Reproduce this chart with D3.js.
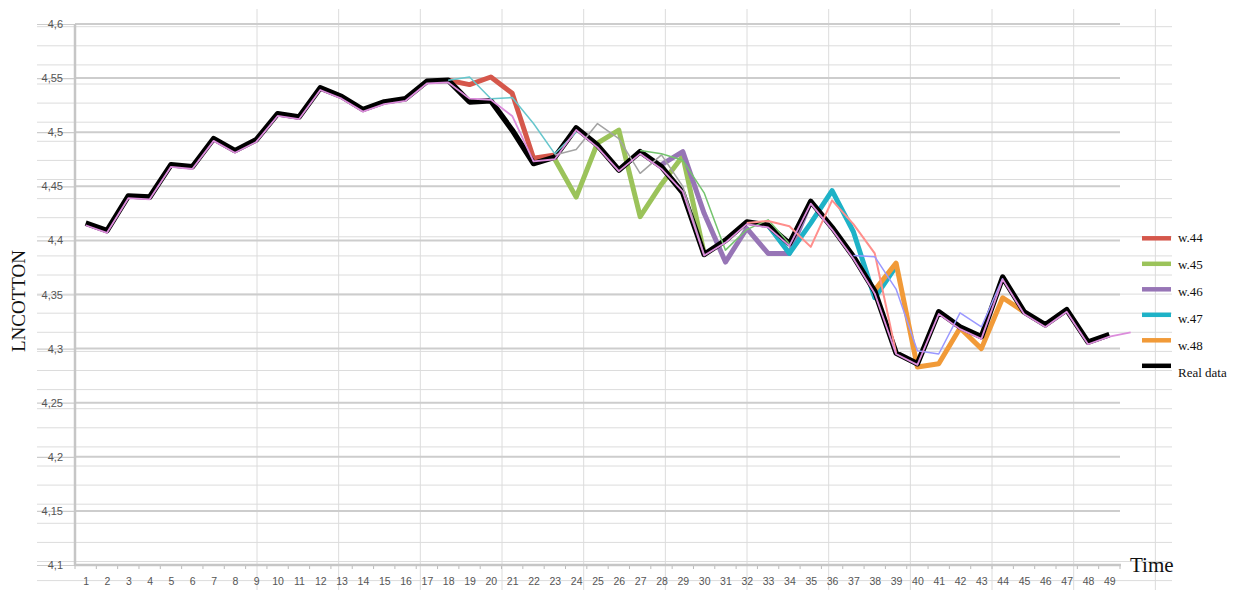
<!DOCTYPE html>
<html>
<head>
<meta charset="utf-8">
<script src="https://d3js.org/d3.v7.min.js"></script>
<style>
  body { margin: 0; background: #fff; }
  svg { display: block; }
</style>
</head>
<body>
<div id="chart"></div>
<script>
// time axis categories
var times = [1, 2, 3, 4, 5, 6, 7, 8, 9, 10, 11, 12, 13, 14, 15, 16, 17, 18, 19, 20,
  21, 22, 23, 24, 25, 26, 27, 28, 29, 30, 31, 32, 33, 34, 35, 36, 37, 38, 39, 40,
  41, 42, 43, 44, 45, 46, 47, 48, 49];
var yTicks = [4.1, 4.15, 4.2, 4.25, 4.3, 4.35, 4.4, 4.45, 4.5, 4.55, 4.6];

// real data (LNCOTTON)
var realData = [4.416, 4.409, 4.441, 4.440, 4.470, 4.468, 4.494, 4.483, 4.493, 4.517,
  4.514, 4.541, 4.533, 4.521, 4.528, 4.531, 4.547, 4.548, 4.528, 4.529,
  4.502, 4.471, 4.477, 4.504, 4.488, 4.465, 4.482, 4.468, 4.444, 4.387,
  4.400, 4.417, 4.414, 4.397, 4.436, 4.412, 4.385, 4.353, 4.296, 4.286,
  4.334, 4.320, 4.311, 4.366, 4.334, 4.322, 4.336, 4.306, 4.313];

// forecasts shown in the legend (first value = time in *Start)
var w44Start = 18;
var w44 = [4.548, 4.544, 4.551, 4.536, 4.476, 4.479];
var w45Start = 23;
var w45 = [4.475, 4.440, 4.490, 4.502, 4.422, 4.452, 4.478, 4.388];
var w46Start = 28;
var w46 = [4.470, 4.482, 4.425, 4.380, 4.411, 4.388, 4.388, 4.436];
var w47Start = 33;
var w47 = [4.414, 4.388, 4.416, 4.446, 4.408, 4.347, 4.376];
var w48Start = 38;
var w48 = [4.354, 4.379, 4.283, 4.286, 4.319, 4.300, 4.347, 4.334];

// other thin forecast lines (no legend entry)
var thinCyanStart = 18;
var thinCyan = [4.548, 4.551, 4.531, 4.532, 4.508, 4.480, 4.500];
var greyStart = 23;
var grey = [4.479, 4.484, 4.508, 4.494, 4.462, 4.479, 4.450, 4.387];
var thinGreenStart = 27;
var thinGreen = [4.483, 4.480, 4.474, 4.444, 4.391, 4.410, 4.419, 4.397];
var salmonStart = 32;
var salmon = [4.416, 4.418, 4.413, 4.394, 4.437, 4.415, 4.388, 4.296];
var lavenderStart = 37;
var lavender = [4.386, 4.385, 4.355, 4.298, 4.295, 4.333, 4.320, 4.365];
var pinkStart = 1;
var pink = [4.414, 4.407, 4.439, 4.438, 4.468, 4.466, 4.492, 4.481, 4.491, 4.515,
  4.512, 4.539, 4.531, 4.519, 4.526, 4.529, 4.545, 4.546, 4.531, 4.530,
  4.515, 4.473, 4.475, 4.502, 4.486, 4.464, 4.480, 4.466, 4.445, 4.386,
  4.398, 4.415, 4.412, 4.395, 4.434, 4.410, 4.383, 4.351, 4.295, 4.285,
  4.332, 4.318, 4.309, 4.364, 4.332, 4.320, 4.334, 4.304, 4.311, 4.315];

render_chart();

function render_chart() {

  var width = 1237,
      height = 590;

  // plot area
  var left = 75, right = 1120, top = 24, bottom = 565;

  var x = d3.scaleLinear().domain([0.5, times.length + 0.5]).range([left, right]);
  var y = d3.scaleLinear().domain([4.1, 4.6]).range([bottom, top]);

  var comma = d3.formatLocale({decimal: ",", thousands: ".", grouping: [3], currency: ["", ""]}).format("~g");

  var svg = d3.select("#chart").append("svg")
    .attr("width", width)
    .attr("height", height);

  // spreadsheet cells behind the chart
  var sheet = svg.append("g").attr("stroke", "#dcdcdc").attr("stroke-width", 1);
  for (var ry = 26.7; ry < height; ry += 19.1) {
    sheet.append("line").attr("x1", 37).attr("x2", 1172).attr("y1", ry).attr("y2", ry);
  }
  for (var cx = 257; cx < 1160; cx += 81.67) {
    sheet.append("line").attr("x1", cx).attr("x2", cx).attr("y1", 9).attr("y2", height);
  }

  // horizontal gridlines + long tick lines
  svg.append("g")
    .selectAll("line.grid")
    .data(yTicks)
    .enter().append("line")
    .attr("class", "grid")
    .attr("x1", left).attr("x2", right)
    .attr("y1", function(d) { return y(d); })
    .attr("y2", function(d) { return y(d); })
    .attr("stroke", "#cdcdcd")
    .attr("stroke-width", 2);

  var yAxis = svg.append("g")
    .attr("transform", "translate(" + left + ",0)")
    .call(d3.axisLeft(y).tickValues(yTicks).tickSize(38).tickFormat(comma));
  yAxis.select(".domain").remove();
  yAxis.selectAll(".tick line").attr("stroke", "#cccccc").attr("stroke-width", 1.2);
  yAxis.selectAll(".tick text")
    .attr("x", -12)
    .attr("fill", "#555")
    .style("font-family", "'Liberation Sans', Arial, sans-serif")
    .style("font-size", "11px");

  // x axis labels
  var xAxis = svg.append("g")
    .attr("transform", "translate(0," + bottom + ")")
    .call(d3.axisBottom(x).tickValues(times).tickSize(0).tickPadding(13));
  xAxis.select(".domain").remove();
  xAxis.selectAll(".tick text")
    .attr("fill", "#555")
    .style("font-family", "'Liberation Sans', Arial, sans-serif")
    .style("font-size", "10.5px");

  // small tick marks at category boundaries
  svg.append("g")
    .selectAll("line")
    .data([0].concat(times))
    .enter().append("line")
    .attr("x1", function(d) { return x(d + 0.5); })
    .attr("x2", function(d) { return x(d + 0.5); })
    .attr("y1", bottom).attr("y2", bottom + 4)
    .attr("stroke", "#bbbbbb");

  // axis lines
  svg.append("line").attr("x1", left).attr("x2", left).attr("y1", top).attr("y2", bottom)
    .attr("stroke", "#c6c6c6").attr("stroke-width", 2.5);
  svg.append("line").attr("x1", left).attr("x2", right + 1).attr("y1", bottom).attr("y2", bottom)
    .attr("stroke", "#c6c6c6").attr("stroke-width", 2.5);

  var series = [
    {label: "w.44", start: w44Start, values: w44, color: "#d5574b", w: 5, legend: true},
    {label: "w.45", start: w45Start, values: w45, color: "#9bc35a", w: 5, legend: true},
    {label: "w.46", start: w46Start, values: w46, color: "#9775b6", w: 5, legend: true},
    {label: "w.47", start: w47Start, values: w47, color: "#1eb2c7", w: 5, legend: true},
    {label: "w.48", start: w48Start, values: w48, color: "#f19a38", w: 5, legend: true},
    {label: "Real data", start: 1, values: realData, color: "#000000", w: 5.5, legend: true},
    {label: "", start: thinCyanStart, values: thinCyan, color: "#66c6cc", w: 1.5},
    {label: "", start: greyStart, values: grey, color: "#a3a3a3", w: 1.5},
    {label: "", start: thinGreenStart, values: thinGreen, color: "#74c46e", w: 1.5},
    {label: "", start: salmonStart, values: salmon, color: "#ff8f8c", w: 2},
    {label: "", start: lavenderStart, values: lavender, color: "#9a98ff", w: 1.5},
    {label: "", start: pinkStart, values: pink, color: "#dc8ddc", w: 1.8}
  ];

  var line = d3.line()
    .x(function(d) { return x(d.t); })
    .y(function(d) { return y(d.v); });

  svg.append("g")
    .selectAll("path")
    .data(series)
    .enter().append("path")
    .attr("d", function(s) {
      return line(s.values.map(function(v, i) { return {t: s.start + i, v: v}; }));
    })
    .attr("fill", "none")
    .attr("stroke", function(s) { return s.color; })
    .attr("stroke-width", function(s) { return s.w; })
    .attr("stroke-linejoin", "round");

  // legend
  var legendItems = series.filter(function(s) { return s.legend; });
  var lg = svg.append("g");
  lg.selectAll("line")
    .data(legendItems)
    .enter().append("line")
    .attr("x1", 1142).attr("x2", 1171)
    .attr("y1", function(d, i) { return 238.3 + i * 25.5; })
    .attr("y2", function(d, i) { return 238.3 + i * 25.5; })
    .attr("stroke", function(d) { return d.color; })
    .attr("stroke-width", 4.5);
  lg.selectAll("text")
    .data(legendItems)
    .enter().append("text")
    .attr("x", 1178)
    .attr("y", function(d, i) { return 242 + i * 27; })
    .style("font-family", "'Liberation Serif', 'Times New Roman', serif")
    .style("font-size", "13px")
    .attr("fill", "#111")
    .text(function(d) { return d.label; });

  // axis titles
  svg.append("text")
    .attr("transform", "translate(25,301) rotate(-90)")
    .attr("text-anchor", "middle")
    .style("font-family", "'Liberation Serif', 'Times New Roman', serif")
    .style("font-size", "19px")
    .attr("fill", "#111")
    .text("LNCOTTON");

  svg.append("text")
    .attr("x", 1130)
    .attr("y", 572)
    .style("font-family", "'Liberation Serif', 'Times New Roman', serif")
    .style("font-size", "21px")
    .attr("fill", "#111")
    .text("Time");
}
</script>
</body>
</html>
